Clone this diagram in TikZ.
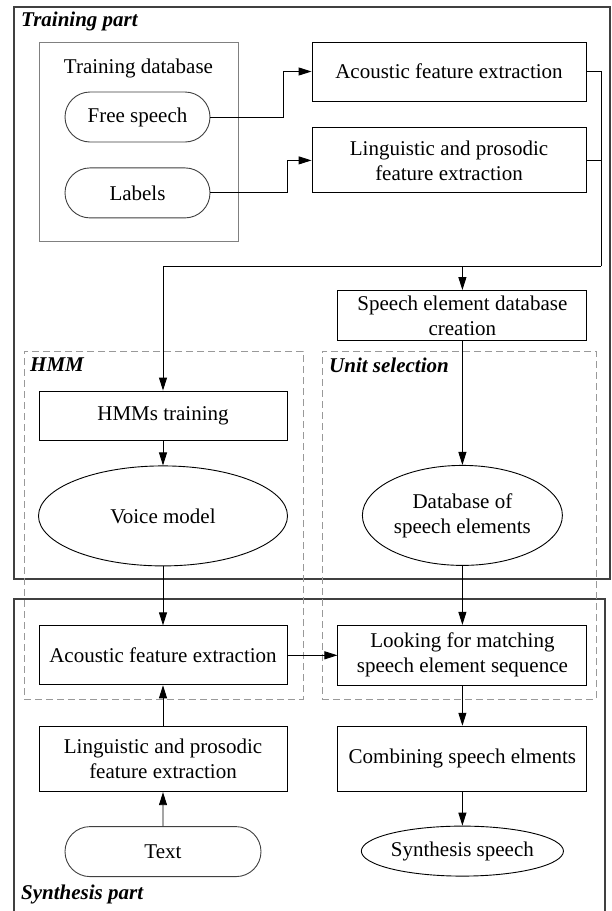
\documentclass[tikz,border=0pt]{standalone}
\usepackage{fontspec}
\setmainfont{Liberation Serif}
\usetikzlibrary{shapes.geometric, shapes.misc, arrows.meta, positioning}

\begin{document}
\begin{tikzpicture}[
    x=1pt, y=-1pt,
    node distance=25pt and 50pt,
    box/.style={rectangle, draw, line width=0.9pt, minimum width=248pt, minimum height=49pt, inner sep=2pt, font=\fontsize{21}{25}\selectfont, align=center},
    wbox/.style={box, minimum width=274pt},
    pill/.style={rounded rectangle, draw=black!75, line width=0.9pt, minimum width=149pt, minimum height=50pt, inner sep=2pt, font=\fontsize{21}{25}\selectfont},
    oval/.style={ellipse, draw, line width=0.9pt, inner sep=0pt, font=\fontsize{21}{25}\selectfont, align=center},
    frame/.style={rectangle, draw=black!75, line width=1.4pt, inner sep=0pt},
    group/.style={rectangle, draw=black!40, dash pattern=on 7pt off 4pt, line width=0.9pt, inner sep=0pt},
    tag/.style={font=\fontsize{21}{25}\selectfont\bfseries\itshape, inner sep=0pt, anchor=base west},
    arrow/.style={-{Triangle[length=13pt, width=8pt]}, line width=0.9pt}
]
\fill[white] (0,0) rectangle (611,911);
\useasboundingbox (0,0) rectangle (611,911);

% Frames
\node[frame, minimum width=596pt, minimum height=572pt] (train) at (312,293) {};
\node[frame, minimum width=591pt, minimum height=314pt] (synth part) at (309.5,756) {};
\node[group, minimum width=279pt, minimum height=348pt] (hmm) at (163.5,525) {};
\node[group, minimum width=274pt, minimum height=348pt] (unit) at (459,525) {};

\node[tag] (traintag) at (21,26) {Training part};
\node[tag] (hmmtag) at (30,371) {HMM};
\node[tag] (unittag) at (329,372) {Unit selection};
\node[tag] (synthtag) at (21,899) {Synthesis part};

% Training database
\node[frame, draw=black!50, line width=0.9pt, minimum width=199pt, minimum height=199pt] (tdb) at (138.5,141.5) {};
\node[font=\fontsize{21}{25}\selectfont] (tdbtitle) at (138.5,68) {Training database};
\node[pill] (free) at (137.5,117) {Free speech};
\node[pill, below=25pt of free] (labels) {Labels};

% Feature extraction (training)
\node[wbox, minimum height=59pt] (acu1) at (449,71.5) {Acoustic feature extraction};
\node[wbox, minimum height=65pt, below=26pt of acu1] (ling1) {Linguistic and prosodic\\feature extraction};

% HMM branch
\node[box] (hmmtr) at (163,415.5) {HMMs training};
\node[oval, minimum width=249pt, minimum height=100pt, below=25pt of hmmtr] (voice) {Voice model};
\node[box, minimum height=59pt, below=59pt of voice] (acu2) {Acoustic feature extraction};
\node[box, minimum height=65pt, below=41pt of acu2] (ling2) {Linguistic and prosodic\\feature extraction};
\node[pill, minimum width=200pt, below=34pt of ling2] (txt) {Text};

% Unit selection branch
\node[box, minimum width=249pt, minimum height=60pt, right=50pt of acu2] (look) {Looking for matching\\speech element sequence};
\node[oval, minimum width=200pt, minimum height=100pt, above=59pt of look] (dbse) {Database of\\speech elements};
\node[box, minimum width=249pt, minimum height=50pt, above=124pt of dbse] (sedb) {Speech element database\\creation};
\node[box, minimum width=249pt, minimum height=65pt, below=40pt of look] (comb) {Combining speech elments};
\node[oval, minimum width=200pt, minimum height=50pt, below=34pt of comb] (synth) {Synthesis speech};

% Arrows - training inputs
\draw[arrow] (free.east) -- ++(73,0) |- (acu1.west);
\draw[arrow] (labels.east) -- ++(77,0) |- (ling1.west);

% Arrows - merge and split
\coordinate (split) at (601,266);
\draw[line width=0.9pt] (acu1.east) -| (split);
\draw[line width=0.9pt] (ling1.east) -- (ling1.east -| split);
\draw[arrow] (split) -| (hmmtr.north);
\draw[arrow] (split) -| (sedb.north);

% Arrows - HMM
\draw[arrow] (hmmtr) -- (voice);
\draw[arrow] (voice) -- (acu2);
\draw[arrow] (txt) -- (ling2);
\draw[arrow] (ling2) -- (acu2);

% Arrows - unit selection
\draw[arrow] (sedb) -- (dbse);
\draw[arrow] (dbse) -- (look);
\draw[arrow] (acu2) -- (look);
\draw[arrow] (look) -- (comb);
\draw[arrow] (comb) -- (synth);

\end{tikzpicture}
\end{document}
